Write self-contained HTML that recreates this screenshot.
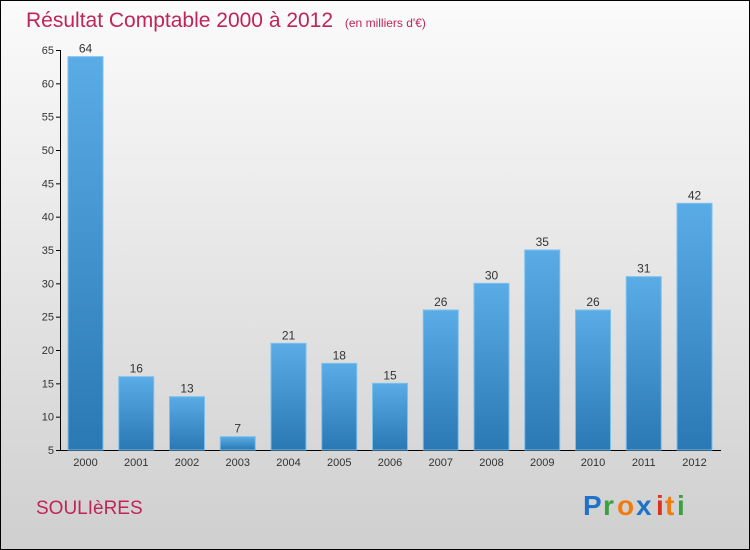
<!DOCTYPE html>
<html><head><meta charset="utf-8"><style>
body{margin:0;width:750px;height:550px;overflow:hidden}
svg{display:block}
text{font-family:"Liberation Sans",sans-serif}
</style></head><body>
<svg width="750" height="550">
<defs>
<linearGradient id="bg" x1="0" y1="0" x2="0" y2="1"><stop offset="0" stop-color="#fbfbfb"/><stop offset="1" stop-color="#cfcfcf"/></linearGradient>
<linearGradient id="bar" x1="0" y1="0" x2="0" y2="1"><stop offset="0" stop-color="#5aace6"/><stop offset="1" stop-color="#2a78b4"/></linearGradient>
</defs>
<rect x="0.5" y="0.5" width="749" height="549" fill="url(#bg)" stroke="#000"/>
<text x="26" y="27" font-size="21" fill="#c0245a">Résultat Comptable 2000 à 2012 <tspan font-size="12" dx="6">(en milliers d'€)</tspan></text>
<g id="axes"></g>
<g id="bars"></g>
<text x="36" y="514" font-size="19" fill="#c0245a">SOULIèRES</text>
<g font-size="28" font-weight="bold">
<text x="583" y="515" fill="#1e73c8">P</text><text x="603" y="515" fill="#3aa040">r</text><text x="617" y="515" fill="#f07c10">o</text><text x="636" y="515" fill="#1e73c8">x</text><text x="656" y="515" fill="#e03020">i</text><text x="665" y="515" fill="#f07c10">t</text><text x="677" y="515" fill="#3aa040">i</text>
</g>
</svg>
<script>
const years=["2000","2001","2002","2003","2004","2005","2006","2007","2008","2009","2010","2011","2012"];
const values=[64,16,13,7,21,18,15,26,30,35,26,31,42];
const yTicks=[5,10,15,20,25,30,35,40,45,50,55,60,65];
const NS="http://www.w3.org/2000/svg";
const y=v=>450-(v-5)*400/60;
const x=i=>68+i*50.75;
function mk(t,a,p){const e=document.createElementNS(NS,t);for(const k in a)e.setAttribute(k,a[k]);p.appendChild(e);return e;}
const ax=document.getElementById('axes'),bg=document.getElementById('bars');
let l=mk('line',{x1:60.5,y1:50,x2:60.5,y2:450,stroke:'#000'},ax);


l=mk('line',{x1:60,y1:450.5,x2:721,y2:450.5,stroke:'#000'},ax);


yTicks.forEach(v=>{
 mk('line',{x1:56,x2:60,y1:y(v)+.5,y2:y(v)+.5,stroke:'#000'},ax);
 const t=mk('text',{x:54,y:y(v)+4,'text-anchor':'end','font-size':11,fill:'#333'},ax);
 t.textContent=v;
 
 
});
years.forEach((yr,i)=>{
 const r=mk('rect',{x:x(i),y:y(values[i]),width:35,height:450-y(values[i]),fill:'url(#bar)',stroke:'#7cc0ee','stroke-width':1},bg);
 
 
 const lb=mk('text',{x:x(i)+17.5,y:y(values[i])-4,'text-anchor':'middle','font-size':12,fill:'#333'},bg);
 lb.textContent=values[i];
 
 
 const xt=mk('text',{x:x(i)+17.5,y:466,'text-anchor':'middle','font-size':11,fill:'#333'},bg);
 xt.textContent=yr;
 
 
});
</script>
</body></html>
